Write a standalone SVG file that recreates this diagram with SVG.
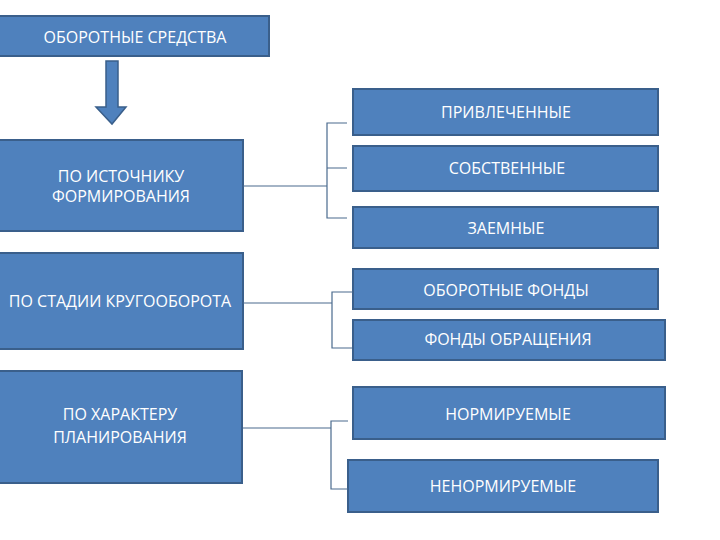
<svg xmlns="http://www.w3.org/2000/svg" width="720" height="540" viewBox="0 0 720 540">
<style>
.box{fill:#4F81BD;stroke:#3A5F8B;stroke-width:2}
.t{fill:#ffffff;font-family:"Open Sans","Liberation Sans",sans-serif;font-size:16px;text-anchor:middle}
.c{fill:none;stroke:#4A6A8E;stroke-width:1.2}
</style>
<rect width="720" height="540" fill="#ffffff"/>
<g id="root"><rect class="box" x="-1" y="16" width="270" height="40"/><text class="t" x="135" y="43">ОБОРОТНЫЕ СРЕДСТВА</text></g>
<g id="arrow"><path d="M106 61 H118 V107 H126 L112 124 L96 107 H106 Z" fill="#4F81BD" stroke="#3A5F8B" stroke-width="1.5"/></g>
<g id="src"><rect class="box" x="-1" y="140" width="244" height="91"/><text class="t" x="121" y="182">ПО ИСТОЧНИКУ</text><text class="t" x="121" y="202">ФОРМИРОВАНИЯ</text></g>
<g id="stage"><rect class="box" x="-1" y="253" width="244" height="96"/><text class="t" x="120" y="307">ПО СТАДИИ КРУГООБОРОТА</text></g>
<g id="plan"><rect class="box" x="-1" y="371" width="243" height="112"/><text class="t" x="120" y="420">ПО ХАРАКТЕРУ</text><text class="t" x="120" y="443">ПЛАНИРОВАНИЯ</text></g>
<g id="priv"><rect class="box" x="353" y="89" width="305" height="46"/><text class="t" x="506" y="118">ПРИВЛЕЧЕННЫЕ</text></g>
<g id="sobst"><rect class="box" x="353" y="146" width="305" height="45"/><text class="t" x="507" y="174">СОБСТВЕННЫЕ</text></g>
<g id="zaem"><rect class="box" x="353" y="207" width="305" height="41"/><text class="t" x="506" y="234">ЗАЕМНЫЕ</text></g>
<g id="obfond"><rect class="box" x="353" y="269" width="305" height="40"/><text class="t" x="506" y="296">ОБОРОТНЫЕ ФОНДЫ</text></g>
<g id="fobr"><rect class="box" x="353" y="320" width="312" height="40"/><text class="t" x="508" y="345">ФОНДЫ ОБРАЩЕНИЯ</text></g>
<g id="norm"><rect class="box" x="353" y="387" width="312" height="52"/><text class="t" x="508" y="420">НОРМИРУЕМЫЕ</text></g>
<g id="nenorm"><rect class="box" x="348" y="460" width="310" height="52"/><text class="t" x="503" y="492">НЕНОРМИРУЕМЫЕ</text></g>
<g id="connectors">
<path class="c" d="M243 186 H327 M347 123 H327 V218 H347 M327 168 H347"/>
<path class="c" d="M243 303 H332 M353 292 H332 V348 H352"/>
<path class="c" d="M243 428 H331 M348 421 H331 V489 H348"/>
</g>
</svg>
